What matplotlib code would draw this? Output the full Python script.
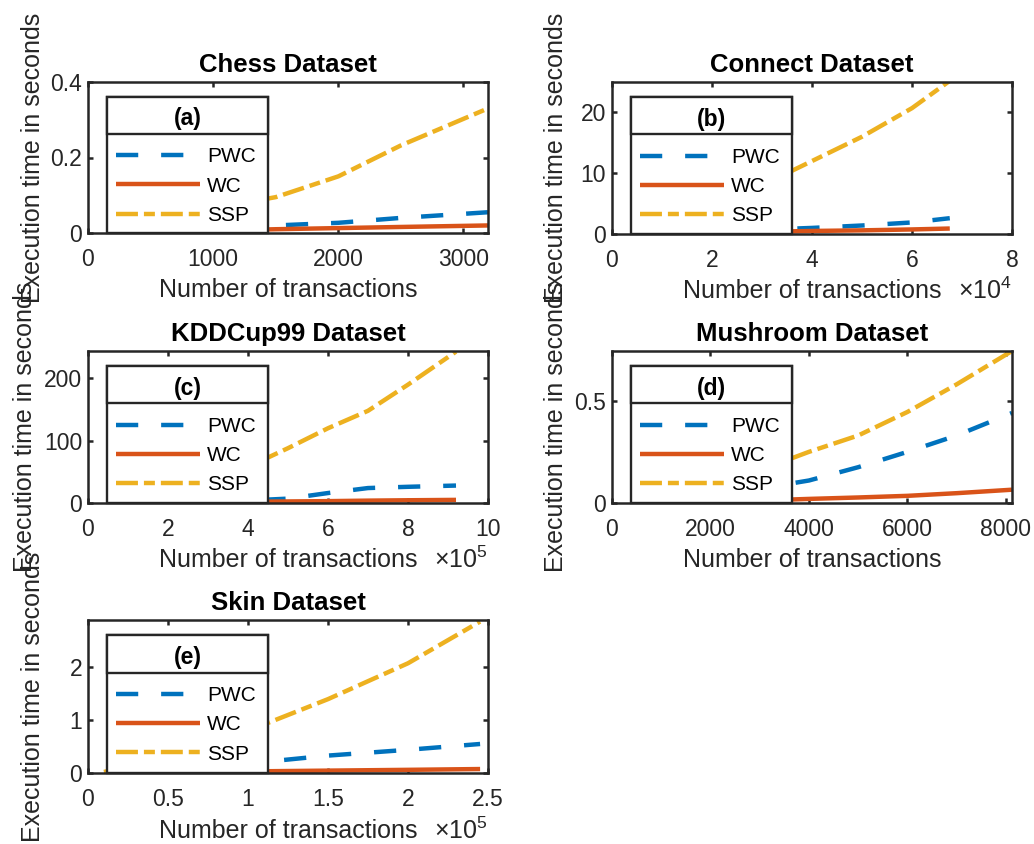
import numpy as np
import matplotlib
matplotlib.use("Agg")
import matplotlib.pyplot as plt
from matplotlib.patches import Rectangle
from matplotlib.ticker import FuncFormatter

plt.rcParams['font.family'] = ['Liberation Sans', 'DejaVu Sans']
plt.rcParams['mathtext.fontset'] = 'custom'
plt.rcParams['mathtext.rm'] = 'Liberation Sans'
plt.rcParams['lines.scale_dashes'] = False

# --- data ---
chess_x = [500, 1000, 1500, 2000, 2500, 3196]
chess_pwc = [0.010, 0.015, 0.020, 0.027, 0.040, 0.055]
chess_wc = [0.003, 0.006, 0.010, 0.013, 0.016, 0.020]
chess_ssp = [0.040, 0.065, 0.095, 0.150, 0.232, 0.330]

connect_x = [10000, 20000, 30000, 40000, 50000, 60000, 67557]
connect_pwc = [0.2, 0.4, 0.7, 1.0, 1.4, 1.9, 2.6]
connect_wc = [0.1, 0.2, 0.35, 0.5, 0.6, 0.75, 0.9]
connect_ssp = [2.0, 4.5, 8.0, 12.0, 16.0, 20.7, 25.2]

kdd_x = [100000, 200000, 300000, 400000, 500000, 600000, 700000, 800000, 920000]
kdd_pwc = [1, 2, 3, 4, 7, 16, 24, 26, 28]
kdd_wc = [0.5, 1.0, 1.5, 2.0, 2.5, 3.0, 3.8, 4.4, 5.0]
kdd_ssp = [10, 22, 38, 58, 88, 120, 148, 190, 243]

mush_x = [1000, 2000, 3000, 4000, 5000, 6000, 7000, 8124]
mush_pwc = [0.02, 0.04, 0.07, 0.11, 0.175, 0.25, 0.33, 0.44]
mush_wc = [0.003, 0.007, 0.012, 0.020, 0.027, 0.035, 0.048, 0.065]
mush_ssp = [0.05, 0.10, 0.16, 0.25, 0.33, 0.445, 0.58, 0.743]

skin_x = [10000, 50000, 100000, 150000, 200000, 245057]
skin_pwc = [0.01, 0.08, 0.18, 0.33, 0.44, 0.55]
skin_wc = [0.002, 0.01, 0.03, 0.045, 0.06, 0.075]
skin_ssp = [0.02, 0.3, 0.8, 1.4, 2.08, 2.87]

series_names = ["PWC", "WC", "SSP"]
colors = ["#0072BD", "#D95319", "#EDB120"]
styles = [(0, (16, 16.5)), "-", (0, (15.8, 4.3, 7.9, 4.3))]

panels = [
    # title, tag, x, (pwc, wc, ssp), xlim, ylim, xticks, yticks, x exponent, box in px
    ("Chess Dataset", "(a)", chess_x, (chess_pwc, chess_wc, chess_ssp),
     (0, 3196), (0, 0.4), [0, 1000, 2000, 3000], [0, 0.2, 0.4], 0,
     [88, 82, 488, 233]),
    ("Connect Dataset", "(b)", connect_x, (connect_pwc, connect_wc, connect_ssp),
     (0, 80000), (0, 25), [0, 20000, 40000, 60000, 80000], [0, 10, 20], 4,
     [612, 82, 1012, 234]),
    ("KDDCup99 Dataset", "(c)", kdd_x, (kdd_pwc, kdd_wc, kdd_ssp),
     (0, 1000000), (0, 244), [0, 200000, 400000, 600000, 800000, 1000000], [0, 100, 200], 5,
     [88, 351, 488, 503]),
    ("Mushroom Dataset", "(d)", mush_x, (mush_pwc, mush_wc, mush_ssp),
     (0, 8124), (0, 0.743), [0, 2000, 4000, 6000, 8000], [0, 0.5], 0,
     [612, 351, 1012, 503]),
    ("Skin Dataset", "(e)", skin_x, (skin_pwc, skin_wc, skin_ssp),
     (0, 250000), (0, 2.9), [0, 50000, 100000, 150000, 200000, 250000], [0, 1, 2], 5,
     [88, 620, 488, 773]),
]

W, H = 1034, 844
fig = plt.figure(figsize=(W / 100, H / 100), dpi=100)
axcol = "#262626"

for title, tag, x, ys, xlim, ylim, xt, yt, expo, (l, t, r, b) in panels:
    ax = fig.add_axes([l / W, 1 - b / H, (r - l) / W, (b - t) / H])
    lines = []
    for y, c, ls, name in zip(ys, colors, styles, series_names):
        ln, = ax.plot(x, y, color=c, linestyle=ls, linewidth=3.2, label=name,
                      solid_capstyle='butt', dash_capstyle='butt')
        lines.append(ln)
    ax.set_xlim(*xlim)
    ax.set_ylim(*ylim)
    ax.set_xticks(xt)
    ax.set_yticks(yt)
    scale = 10 ** expo
    ax.xaxis.set_major_formatter(FuncFormatter(lambda v, p, s=scale: f"{v / s:g}"))
    ax.yaxis.set_major_formatter(FuncFormatter(lambda v, p: f"{v:g}"))
    for sp in ax.spines.values():
        sp.set_linewidth(1.8)
        sp.set_color(axcol)
    ax.tick_params(direction='in', length=3.6, width=1.8, color=axcol,
                   labelcolor=axcol, labelsize=16.5, top=True, right=True)
    ax.tick_params(axis='x', pad=11)
    ax.tick_params(axis='y', pad=4.3)
    ax.set_title(title, fontsize=18.5, fontweight='bold', pad=7)
    ax.set_xlabel("Number of transactions", fontsize=18, color=axcol)
    ax.xaxis.set_label_coords(0.5, -0.298)
    ax.set_ylabel("Execution time in seconds", fontsize=18, color=axcol)
    ylx = -0.1275 if tag == "(c)" else (-0.11 if tag in ("(b)", "(d)") else -0.1075)
    ax.yaxis.set_label_coords(ylx, 0.5)
    if expo:
        ax.text(1.0, -0.43, r"$\times10^{%d}$" % expo, transform=ax.transAxes,
                ha='right', va='baseline', fontsize=18, color=axcol)

    # legend box with title compartment
    x0, x1, ysep, ytop = 0.0475, 0.45, 0.656, 0.9007
    ax.add_patch(Rectangle((x0, 0), x1 - x0, ytop, transform=ax.transAxes,
                           facecolor='white', edgecolor=axcol, linewidth=1.7,
                           zorder=4, clip_on=False))
    ax.add_patch(Rectangle((x0, ysep), x1 - x0, ytop - ysep, transform=ax.transAxes,
                           facecolor='white', edgecolor=axcol, linewidth=1.7,
                           zorder=4, clip_on=False))
    ax.text((x0 + x1) / 2, 0.755, tag, transform=ax.transAxes, ha='center',
            va='center', fontsize=16.5, fontweight='bold', zorder=6)
    leg = ax.legend(handles=lines, loc='upper left', bbox_to_anchor=(0.07, 0.567),
                    frameon=False, borderpad=0, borderaxespad=0, fontsize=15,
                    handlelength=4.03, handletextpad=0.34, labelspacing=0.49)
    leg.set_zorder(6)

fig.savefig("out.png", dpi=100)
